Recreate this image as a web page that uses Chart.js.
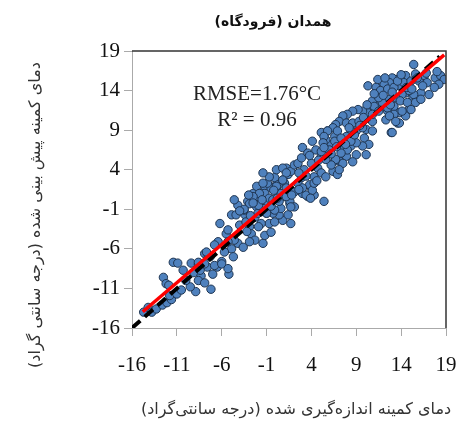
<!DOCTYPE html>
<html>
<head>
<meta charset="utf-8">
<script src="https://cdn.jsdelivr.net/npm/chart.js@4.4.1/dist/chart.umd.min.js"></script>
<style>
  html, body { margin: 0; padding: 0; background: #fff; }
  #wrap { width: 458px; height: 423px; position: relative; }
</style>
</head>
<body>
<div id="wrap"><canvas id="chart"></canvas></div>
<script>
// texts
const chartTitle = 'همدان (فرودگاه)';
const xTitle = 'دمای کمینه اندازه‌گیری شده (درجه سانتی‌گراد)';
const yTitle = 'دمای کمینه پیش بینی شده (درجه سانتی گراد)';
const statLines = ['RMSE=1.76°C', 'R² = 0.96'];

// axis ticks
const xTicks = [-16, -11, -6, -1, 4, 9, 14, 19];
const yTicks = [-16, -11, -6, -1, 4, 9, 14, 19];

const measured = [
  -14.7, -14.2, -13.8, -13.3, -12.6, -12.1, -11.6, -11.8, -12.5, -12.2, -11.4, -10.9, -10.3, -11.9, -11.0, -10.5, -9.4,
  -9.1, -8.6, -8.3, -8.9, -9.5, -7.9, -7.3, -7.6, -7.0, -7.2, -6.5, -6.0, -5.2, -8.6, -7.9, -10.0, -8.4,
  -8.6, -7.9, -6.8, -6.0, -5.3, -7.5, -7.7, -6.4, -6.2, -6.8, -5.5, -5.3, -4.9, -4.4, -4.2, -4.6, -3.1, -3.4,
  -4.0, -3.3, -2.9, -2.7, -2.3, -2.9, -4.2, -3.6, -4.9, -4.7, -5.7, -4.6, -5.3, -1.4, -1.2, -0.7, -0.1, 0.8,
  1.7, 0.4, -0.3, -1.6, -2.1, -2.0, -2.5, -1.6, -1.2, 0.1, 0.3, 1.0, 1.6, 0.6, -0.9, -1.0, -0.5, -2.3, -1.6,
  -1.96, -1.4, -1.8, -2.1, -1.2, -0.7, -0.5, -0.9, -0.1, 0.3, 0.6, 1.0, 1.2, 0.8, 1.4, 1.2, 1.7, 2.1, 2.5,
  2.9, 3.0, 3.6, 3.2, 2.9, 2.5, 2.1, 1.6, 3.0, 3.6, 4.0, 4.3, 3.8, 4.3, 4.7, 5.1, 5.6, 6.4, 6.9, 5.4, 4.1,
  4.5, 5.1, 5.6, 6.2, 5.6, 6.6, 7.1, 7.5, 7.9, 8.4, 7.1, 7.5, 6.6, 8.2, 5.8, 5.1, -0.1, 0.4, -1.0, 2.1, 1.4,
  10.3, 11.9, 12.9, 13.8, 14.5, 15.3, 15.8, 14.9, 13.8, 13.6, 12.9, 12.3, 12.5, 11.6, 11.4, 10.8, 10.6, 10.3,
  9.7, 9.2, 8.6, 8.0, 7.5, 7.1, 6.7, 6.4, 5.8, 5.4, 5.3, 5.1, 6.0, 6.6, 6.9, 7.9, 8.6, 9.3, 9.0, 8.4, 7.9,
  7.3, 10.1, 10.8, 9.9, 10.4, 9.7, 9.0, 8.4, 8.0, 7.3, 6.7, 6.2, 5.6, 9.0, 10.1, 8.6, 7.1, 14.5, 11.4, 9.7, 10.8,
  15.4, 15.6, 14.5, 13.9, 13.4, 13.0, 12.7, 12.1, 11.4, 11.2, 11.7, 12.5, 13.2, 14.3, 15.1, 16.0, 16.6, 16.9,
  17.8, 18.4, 18.8, 18.2, 17.7, 17.1, 16.2, 15.4, 14.9, 14.1, 13.4, 12.7, 11.9, 11.5, 11.0, 10.8, 11.5, 12.5,
  13.2, 13.9, 14.7, 15.6, 15.1, 14.1, 13.2, 12.7, 13.8, 18.0, 16.2, 13.0, 13.4,
  3.4, 4.1, 3.0, 3.9, 4.3, -0.7, -1.4, 0.1, 0.8, 1.2, -2.1, -1.8, -0.3, -2.5, -1.9, 0.1, 0.6, 1.2, 1.7, -1.4,
  -2.9, -3.5, 0.8, -3.5, -2.8, -2.5, -3.0, -0.5, 0.2, -0.2, -1.5, 1.8, 2.6, -4.0, -3.2, -1.9,
  3.4, 4.0, 4.8, 5.4, 6.2, 6.8, 7.8, 8.8, 9.4, 8.2, 9.8, 3.8, 2.6, 4.6,
  11.0, 12.0, 12.2, 13.0, 13.6, 14.6, 15.2, 16.4, 16.8, 15.8, 14.0, 12.8, 10.2
];
const predicted = [
  -14.0, -13.4, -14.0, -13.6, -13.1, -12.8, -12.4, -11.9, -9.6, -10.4, -7.7, -7.8, -8.7, -10.6, -11.7, -11.2, -7.8,
  -9.0, -8.0, -9.4, -11.4, -10.8, -6.6, -7.0, -8.3, -9.2, -11.1, -8.3, -7.6, -9.2, -10.0, -10.3, -10.0, -8.7,
  -7.7, -7.9, -8.1, -7.9, -8.5, -6.8, -6.4, -5.1, -2.8, -5.5, -4.1, -3.6, -1.7, -1.7, -0.5, 0.2, 0.0, -1.7,
  -3.0, -2.6, -3.2, -4.1, -4.9, -5.1, -5.3, -5.8, -6.0, -7.0, -6.4, -4.9, -5.1, -5.3, -4.3, -2.8, -2.6, -2.4,
  -2.8, -1.7, -1.5, -1.3, -0.7, 0.2, 1.0, 1.0, 1.9, 2.1, 1.2, 2.3, -0.3, -0.9, -0.3, -1.5, -3.9, -2.0, -2.8,
  -1.5, -0.9, 0.0, 0.6, 1.0, 0.4, 1.7, 2.3, 3.0, 2.1, 1.0, 0.6, 1.7, 2.7, 3.4, 4.2, 3.8, 4.6, 4.8,
  5.5, 6.8, 6.1, 4.0, 3.0, 2.3, 1.2, 0.0, 1.0, 0.6, 1.7, 0.8, 2.1, 3.1, 4.2, 3.6, 3.1, 3.8, 3.4, 0.0, 7.6,
  6.5, 5.7, 6.3, 7.2, 7.8, 8.2, 7.4, 6.8, 5.7, 7.0, 5.1, 4.8, 5.1, 8.2, 8.9, 8.7, -1.1, 0.0, -1.5, -0.7, -1.7,
  14.6, 14.4, 14.2, 14.6, 13.7, 13.3, 12.9, 11.6, 11.2, 9.9, 8.7, 10.3, 11.4, 12.3, 13.1, 12.7, 11.8, 11.2,
  11.4, 11.6, 11.4, 11.0, 10.8, 10.1, 9.7, 9.3, 8.9, 8.2, 7.4, 6.3, 6.5, 7.6, 8.9, 9.9, 9.9, 10.1, 8.9, 8.9, 8.2,
  8.0, 9.1, 8.9, 8.0, 7.2, 7.0, 7.4, 7.6, 6.5, 6.1, 5.3, 4.6, 5.3, 5.9, 5.9, 5.0, 4.0, 10.8, 14.2, 9.3, 10.1,
  17.3, 16.1, 15.9, 15.6, 15.4, 15.6, 15.0, 14.8, 15.4, 14.4, 14.0, 14.2, 14.4, 15.0, 15.2, 15.2, 15.9, 15.0,
  15.6, 15.9, 15.4, 14.8, 14.4, 13.5, 13.7, 13.5, 14.0, 13.5, 13.1, 12.9, 12.5, 13.1, 12.0, 11.0, 11.4, 11.8,
  12.0, 12.7, 12.5, 12.5, 11.6, 11.4, 11.0, 10.8, 9.9, 16.4, 12.9, 8.7, 10.1,
  0.8, 1.4, 1.7, 0.4, 2.3, 3.1, 3.6, 4.0, 4.2, 3.6, 1.9, 1.0, 0.2, 0.6, -0.5, 1.9, 1.0, 0.6, -0.7, 2.3,
  -0.3, -1.1, 2.7, -1.0, -1.8, -0.2, 0.8, -0.6, 0.4, 1.4, 0.2, 0.8, 1.5, -1.2, -3.8, -3.2,
  3.2, 4.8, 5.2, 6.8, 6.0, 6.9, 7.2, 8.4, 9.6, 9.3, 10.6, 5.8, 3.6, 2.6,
  13.6, 13.4, 15.6, 13.8, 15.2, 14.4, 14.2, 14.6, 16.2, 15.6, 16.0, 12.2, 12.2
];

// regression fit and 1:1 reference line
const fitSlope = 0.966;
const fitIntercept = 0.35;
const fitRange = [-14.8, 18.8];
const oneToOneRange = [-16, 18.3];

const points = measured.map((x, i) => ({ x: x, y: predicted[i] }));
const fitPoints = fitRange.map(x => ({ x: x, y: fitSlope * x + fitIntercept }));
const refPoints = oneToOneRange.map(x => ({ x: x, y: x }));

const tickFont = { family: 'Liberation Serif', size: 21 };
const arabicFont = 'DejaVu Sans';

const decorPlugin = {
    id: 'decor',
    afterDraw(chart) {
        const ctx = chart.ctx;
        const a = chart.chartArea;
        ctx.save();
        // top and right frame
        ctx.strokeStyle = '#333';
        ctx.lineWidth = 1.5;
        ctx.beginPath();
        ctx.moveTo(a.left, a.top);
        ctx.lineTo(a.right, a.top);
        ctx.lineTo(a.right, a.bottom);
        ctx.stroke();

        // stats text
        ctx.fillStyle = '#222';
        ctx.font = '21px "Liberation Serif"';
        ctx.textAlign = 'center';
        ctx.textBaseline = 'middle';
        ctx.fillText(statLines[0], 257, 94);
        ctx.fillText(statLines[1], 257, 120);

        // persian titles
        ctx.direction = 'rtl';
        ctx.fillStyle = '#111';
        ctx.font = 'bold 14px "' + arabicFont + '"';
        ctx.fillText(chartTitle, 273, 22);

        ctx.fillStyle = '#333';
        ctx.font = '16px "' + arabicFont + '"';
        ctx.fillText(xTitle, 296, 410);

        ctx.translate(36, 215);
        ctx.rotate(-Math.PI / 2);
        ctx.fillText(yTitle, 0, 0);
        ctx.restore();
    }
};

new Chart(document.getElementById('chart'), {
    type: 'scatter',
    data: {
        datasets: [
            {
                data: fitPoints,
                showLine: true,
                borderColor: '#ff0000',
                borderWidth: 3.5,
                pointRadius: 0,
                order: 0
            },
            {
                data: refPoints,
                showLine: true,
                borderColor: '#000',
                borderWidth: 4,
                borderDash: [11, 6],
                pointRadius: 0,
                order: 1
            },
            {
                data: points,
                pointRadius: 4.2,
                pointBackgroundColor: '#4f81bd',
                pointBorderColor: '#1f3551',
                pointBorderWidth: 1,
                order: 2
            }
        ]
    },
    options: {
        responsive: true,
        maintainAspectRatio: false,
        animation: false,
        layout: { padding: { top: 51, right: 12, left: 0, bottom: 0 } },
        plugins: {
            legend: { display: false },
            tooltip: { enabled: false }
        },
        scales: {
            x: {
                type: 'linear',
                min: -16,
                max: 19,
                afterBuildTicks: s => { s.ticks = xTicks.map(v => ({ value: v })); },
                afterFit: s => { s.height = 95; s.paddingLeft = 0; s.paddingRight = 0; },
                ticks: { font: tickFont, color: '#111', padding: 17, maxRotation: 0 },
                grid: { drawOnChartArea: false, tickLength: 8, color: '#aaa' },
                border: { color: '#aaa', width: 1 }
            },
            y: {
                type: 'linear',
                min: -16,
                max: 19,
                afterBuildTicks: s => { s.ticks = yTicks.map(v => ({ value: v })); },
                afterFit: s => { s.width = 132; s.paddingTop = 0; s.paddingBottom = 0; },
                ticks: { font: tickFont, color: '#111', padding: 4 },
                grid: { drawOnChartArea: false, tickLength: 8, color: '#aaa' },
                border: { color: '#aaa', width: 1 }
            }
        }
    },
    plugins: [decorPlugin]
});
</script>
</body>
</html>
